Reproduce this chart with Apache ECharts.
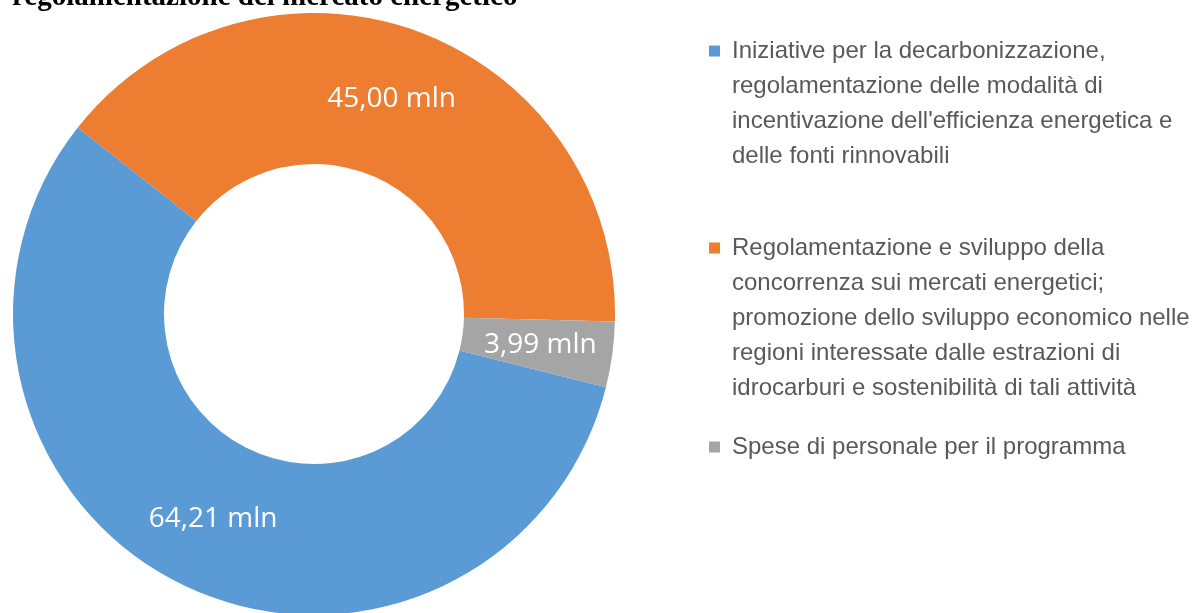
<!DOCTYPE html>
<html>
<head>
<meta charset="utf-8">
<script src="https://cdn.jsdelivr.net/npm/echarts@6/dist/echarts.min.js"></script>
<style>
html,body{margin:0;padding:0;background:#fff;}
#chart{width:1195px;height:613px;}
</style>
</head>
<body>
<div id="chart"></div>
<script>
const titleText = 'regolamentazione del mercato energetico';
const categories = [
  "Iniziative per la decarbonizzazione, regolamentazione delle modalità di incentivazione dell'efficienza energetica e delle fonti rinnovabili",
  "Regolamentazione e sviluppo della concorrenza sui mercati energetici; promozione dello sviluppo economico nelle regioni interessate dalle estrazioni di idrocarburi e sostenibilità di tali attività",
  "Spese di personale per il programma"
];
const legendLines = [
  ["Iniziative per la decarbonizzazione,", "regolamentazione delle modalità di", "incentivazione dell'efficienza energetica e", "delle fonti rinnovabili"],
  ["Regolamentazione e sviluppo della", "concorrenza sui mercati energetici;", "promozione dello sviluppo economico nelle", "regioni interessate dalle estrazioni di", "idrocarburi e sostenibilità di tali attività"],
  ["Spese di personale per il programma"]
];
const values = [64.21, 45.00, 3.99];
const valueLabels = ['64,21 mln', '45,00 mln', '3,99 mln'];
const colors = ['#5B9BD5', '#ED7D31', '#A5A5A5'];

const LH = 35;
const iconCenters = [51, 248, 447];

const chart = echarts.init(document.getElementById('chart'), null, {renderer: 'canvas'});

const legends = categories.map((name, i) => {
  const n = legendLines[i].length;
  const boxH = (2 * n - 1) * LH;
  return {
    data: [name],
    orient: 'vertical',
    left: 709,
    top: iconCenters[i] - boxH / 2,
    padding: 0,
    icon: 'rect',
    itemWidth: 11,
    itemHeight: 11,
    selectedMode: false,
    formatter: () => '\n'.repeat(n - 1) + legendLines[i].join('\n'),
    textStyle: {
      fontFamily: 'Liberation Sans',
      fontSize: 24,
      color: '#595959',
      lineHeight: LH,
      padding: [0, 0, 0, 7]
    }
  };
});

chart.setOption({
  animation: false,
  color: colors,
  title: {
    text: titleText,
    left: 12,
    top: -17,
    padding: 0,
    textStyle: {
      fontFamily: 'Liberation Serif',
      fontWeight: 'bold',
      fontSize: 29,
      color: '#000'
    }
  },
  legend: legends,
  series: [{
    type: 'pie',
    center: [314, 314],
    radius: [150, 301],
    startAngle: -14.1,
    clockwise: true,
    avoidLabelOverlap: false,
    itemStyle: {borderWidth: 0},
    label: {
      show: true,
      position: 'inside',
      color: '#fff',
      fontFamily: 'Open Sans',
      fontSize: 28,
      formatter: p => valueLabels[p.dataIndex]
    },
    labelLine: {show: false},
    data: categories.map((c, i) => ({name: c, value: values[i]}))
  }]
});
</script>
</body>
</html>
